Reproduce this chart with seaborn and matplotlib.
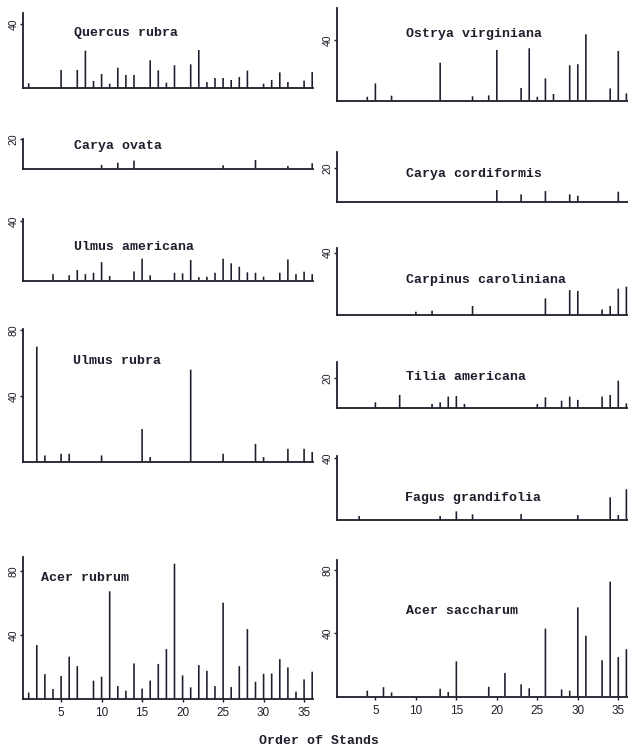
import pandas as pd
import matplotlib.pyplot as plt
import seaborn as sns

all_stands = list(range(1, 37))

quercus_rubra_st = [1, 5, 7, 8, 9, 10, 11, 12, 13, 14, 16, 17, 18, 19, 21, 22, 23, 24, 25, 26, 27, 28, 30, 31, 32, 33, 35, 36]
quercus_rubra = [3.1, 11.4, 11.4, 23.4, 4.6, 8.9, 2.9, 12.8, 8.3, 8.3, 17.4, 11.2, 3.5, 14.3, 14.9, 23.8, 3.9, 6.4, 6.4, 5.2, 7.0, 11.0, 2.9, 5.2, 9.9, 3.9, 4.8, 10.1]

carya_ovata_st = [10, 12, 14, 25, 29, 33, 36]
carya_ovata = [2.9, 4.4, 5.8, 2.7, 6.2, 2.2, 4.0]

ulmus_americana_st = [4, 6, 7, 8, 9, 10, 11, 14, 15, 16, 19, 20, 21, 22, 23, 24, 25, 26, 27, 28, 29, 30, 32, 33, 34, 35, 36]
ulmus_americana = [4.4, 3.6, 7.1, 4.4, 5.3, 12.4, 3.1, 6.2, 14.7, 3.6, 5.3, 4.9, 13.8, 2.4, 2.7, 5.3, 14.7, 11.6, 9.3, 5.6, 5.3, 2.7, 5.3, 14.2, 4.4, 6.0, 4.4]

ulmus_rubra_st = [2, 3, 5, 6, 10, 15, 16, 21, 25, 29, 30, 33, 35, 36]
ulmus_rubra = [70, 4, 5, 5, 4, 20, 3, 56, 5, 11, 3, 8, 8, 6]

acer_rubrum_st = [1, 2, 3, 4, 5, 6, 7, 9, 10, 11, 12, 13, 14, 15, 16, 17, 18, 19, 20, 21, 22, 23, 24, 25, 26, 27, 28, 29, 30, 31, 32, 33, 34, 35, 36]
acer_rubrum = [4.0, 33.8, 15.6, 6.3, 14.4, 26.5, 20.6, 11.5, 14.0, 67.5, 8.1, 5.2, 22.3, 6.5, 11.5, 22.0, 31.3, 84.8, 14.8, 7.3, 21.3, 17.7, 8.1, 60.4, 7.5, 20.6, 43.8, 10.8, 15.8, 16.0, 25.0, 19.8, 4.6, 12.3, 17.1]

ostrya_st = [4, 5, 7, 13, 17, 19, 20, 23, 24, 25, 26, 27, 29, 30, 31, 34, 35, 36]
ostrya = [2.6, 11.4, 3.3, 25.0, 2.9, 3.5, 33.4, 8.4, 34.5, 2.6, 14.7, 4.4, 23.3, 24.0, 43.7, 8.1, 32.7, 4.8]

carya_cordiformis_st = [20, 23, 26, 29, 30, 35]
carya_cordiformis = [7.0, 4.4, 6.4, 4.4, 3.6, 6.0]

carpinus_st = [10, 12, 17, 26, 29, 30, 33, 34, 35, 36]
carpinus = [2.1, 2.8, 5.8, 10.7, 16.0, 15.4, 3.6, 5.8, 16.9, 18.2]

tilia_st = [5, 8, 12, 13, 14, 15, 16, 25, 26, 28, 29, 30, 33, 34, 35, 36]
tilia = [4.0, 8.9, 2.9, 4.0, 7.8, 8.2, 2.9, 2.9, 7.3, 5.1, 7.8, 5.6, 7.8, 8.9, 18.4, 3.3]

fagus_st = [3, 13, 15, 17, 23, 30, 34, 35, 36]
fagus = [2.6, 2.6, 5.6, 3.7, 3.9, 3.2, 14.7, 3.2, 19.9]

acer_saccharum_st = [4, 6, 7, 13, 14, 15, 19, 21, 23, 24, 26, 28, 29, 30, 31, 33, 34, 35, 36]
acer_saccharum = [3.8, 6.0, 2.7, 5.0, 3.0, 22.3, 6.3, 15.0, 7.8, 5.3, 43.0, 4.6, 3.8, 56.4, 38.5, 23.0, 72.6, 25.0, 30.0]

x_ticks = [5, 10, 15, 20, 25, 30, 35]

ink = "#1e1e2c"
W, H = 628, 748
sns.set_style("white")
fig = plt.figure(figsize=(W / 100, H / 100), dpi=100)
fig.patch.set_facecolor("white")


def panel(col, base, top, ymax, yticks, st, vals, name, tx, ty, xlab=False):
    if col == 0:
        x0, x1, xlim = 22.7, 313, (0.26, 36.1)
    else:
        x0, x1, xlim = 337, 628, (0.26, 36.2)
    ax = fig.add_axes([x0 / W, 1 - base / H, (x1 - x0) / W, (base - top) / H])
    full = pd.Series(vals, index=st).reindex(all_stands, fill_value=0)
    sns.barplot(x=full.index, y=full.values, native_scale=True, width=0.2,
                color=ink, saturation=1, linewidth=0, errorbar=None, ax=ax)
    for p in ax.patches:
        p.set_snap(False)
    ax.set_xlim(*xlim)
    ax.set_ylim(0, ymax)
    ax.set(xlabel="", ylabel="")
    ax.set_facecolor("none")
    sns.despine(ax=ax)
    for s in ["left", "bottom"]:
        ax.spines[s].set_linewidth(1.3)
        ax.spines[s].set_color(ink)
    ax.set_yticks(yticks)
    ax.set_yticklabels([str(t) for t in yticks], rotation=90, va="center",
                       fontfamily="Liberation Sans", fontsize=7.5, color=ink)
    ax.tick_params(axis="y", length=2, width=1, pad=1, color=ink, left=True)
    if xlab:
        ax.set_xticks(x_ticks)
        ax.set_xticklabels([str(t) for t in x_ticks], fontfamily="Liberation Sans",
                           fontsize=8.5, color=ink)
        ax.tick_params(axis="x", length=2, width=1, pad=4, color=ink, bottom=True)
    else:
        ax.set_xticks([])
    fig.text(tx / W, 1 - ty / H, name, fontfamily="Liberation Mono", fontweight="bold",
             fontsize=9.5, color=ink, ha="left", va="center")
    return ax


# left column
panel(0, 88.3, 12.7, 47, [40], quercus_rubra_st, quercus_rubra, "Quercus rubra", 74, 33)
panel(0, 169.3, 139.3, 20, [20], carya_ovata_st, carya_ovata, "Carya ovata", 74, 146)
panel(0, 280.7, 219.3, 41, [40], ulmus_americana_st, ulmus_americana, "Ulmus americana", 74, 247)
panel(0, 462, 329.3, 80.5, [40, 80], ulmus_rubra_st, ulmus_rubra, "Ulmus rubra", 73, 361)
panel(0, 699, 557, 89, [40, 80], acer_rubrum_st, acer_rubrum, "Acer rubrum", 41, 578, xlab=True)

# right column
panel(1, 100.7, 8.3, 60.8, [40], ostrya_st, ostrya, "Ostrya virginiana", 406, 34)
panel(1, 201.7, 151.7, 30, [20], carya_cordiformis_st, carya_cordiformis, "Carya cordiformis", 406, 174)
panel(1, 315, 248.3, 42.8, [40], carpinus_st, carpinus, "Carpinus caroliniana", 406, 280)
panel(1, 408.3, 361.7, 31, [20], tilia_st, tilia, "Tilia americana", 406, 377)
panel(1, 520, 456, 41.5, [40], fagus_st, fagus, "Fagus grandifolia", 405, 498)
panel(1, 696.7, 560, 86.3, [40, 80], acer_saccharum_st, acer_saccharum, "Acer saccharum", 406, 611, xlab=True)

fig.text(319 / W, 1 - 741 / H, "Order of Stands", fontfamily="Liberation Mono",
         fontweight="bold", fontsize=9.5, color=ink, ha="center", va="center")

fig.savefig("out.png", dpi=100)
